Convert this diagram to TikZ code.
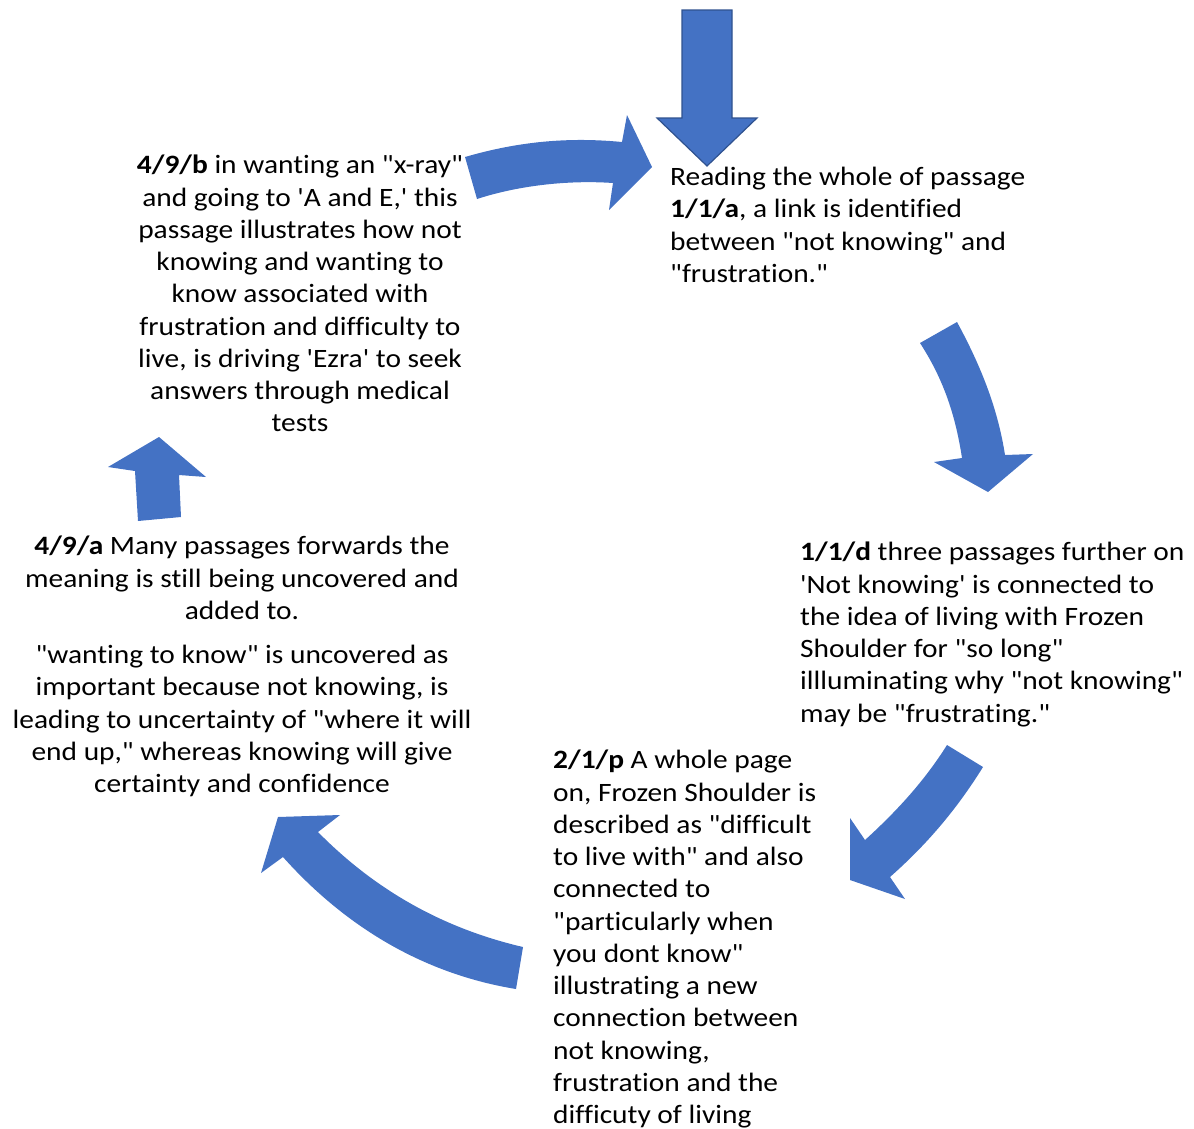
\documentclass[tikz,border=0pt]{standalone}
\usepackage{fontspec}
\setmainfont{Carlito}[Ligatures={TeXOff,NoCommon}, FakeStretch=1.11]
\usepackage{tikz}

\definecolor{arrowblue}{HTML}{4472C4}
\definecolor{arrowedge}{HTML}{2F528F}

\tikzset{
  flow/.style={fill=arrowblue},
  passage/.style={inner sep=0pt, font=\fontsize{26.5}{32.25}\selectfont},
}

\begin{document}
\begin{tikzpicture}[x=1pt,y=-1pt]
  \useasboundingbox (0,0) rectangle (1194,1128);

  % block arrows round the cycle
  \filldraw[flow, draw=arrowedge, line width=1.2pt]
    (682,10) -- (732,10) -- (732,118) -- (757,118) -- (707,166)
    -- (657,118) -- (682,118) -- cycle;
  \fill[flow] (465,157) .. controls (520,141) and (570,137) .. (622,142)
    -- (627,115) -- (652,167) -- (609,210) -- (613,183)
    .. controls (570,180) and (520,185) .. (477,199) -- cycle;
  \fill[flow] (920,343) -- (957,322) .. controls (982,368) and (998,410) .. (1005,455)
    -- (1033,454) -- (988,492) -- (934,462) -- (962,458)
    .. controls (955,412) and (942,377) .. cycle;
  \fill[flow] (947,745) -- (983,767) .. controls (955,812) and (925,846) .. (890,877)
    -- (905,899) -- (850,880) -- (850,818) -- (865,840)
    .. controls (898,810) and (925,780) .. cycle;
  \fill[flow] (523,947) -- (516,989) .. controls (430,975) and (350,932) .. (283,857)
    -- (261,873) -- (278,817) -- (340,815) -- (318,832)
    .. controls (380,895) and (450,930) .. cycle;
  \fill[flow] (138,521) -- (135,471) -- (108,467) -- (159,437) -- (206,477)
    -- (179,475) -- (181,517) -- cycle;

  % passages
  \node[passage, anchor=north west, align=left] (readA) at (670,167)
    {Reading the whole of passage\\ \textbf{1/1/a}, a link is identified\\
     between "not knowing" and\\ "frustration."};
  \node[passage, anchor=north west, align=left] (furtherD) at (800,542)
    {\textbf{1/1/d} three passages further on\\ 'Not knowing' is connected to\\
     the idea of living with Frozen\\ Shoulder for "so long"\\
     illluminating why "not knowing"\\ may be "frustrating."};
  \node[passage, anchor=north west, align=left] (pageP) at (553,750)
    {\textbf{2/1/p} A whole page\\ on, Frozen Shoulder is\\
     described as "difficult\\ to live with" and also\\ connected to\\
     "particularly when\\ you dont know"\\ illustrating a new\\
     connection between\\ not knowing,\\ frustration and the\\ difficuty of living};
  \node[passage, anchor=north, align=center] (forwardA) at (242,536)
    {\textbf{4/9/a} Many passages forwards the\\ meaning is still being uncovered and\\
     added to.\\[12pt] "wanting to know" is uncovered as\\
     important because not knowing, is\\ leading to uncertainty of "where it will\\
     end up," whereas knowing will give\\ certainty and confidence};
  \node[passage, anchor=north, align=center] (wantB) at (300,155)
    {\textbf{4/9/b} in wanting an "x-ray"\\ and going to 'A and E,' this\\
     passage illustrates how not\\ knowing and wanting to\\ know associated with\\
     frustration and difficulty to\\ live, is driving 'Ezra' to seek\\
     answers through medical\\ tests};
\end{tikzpicture}
\end{document}
